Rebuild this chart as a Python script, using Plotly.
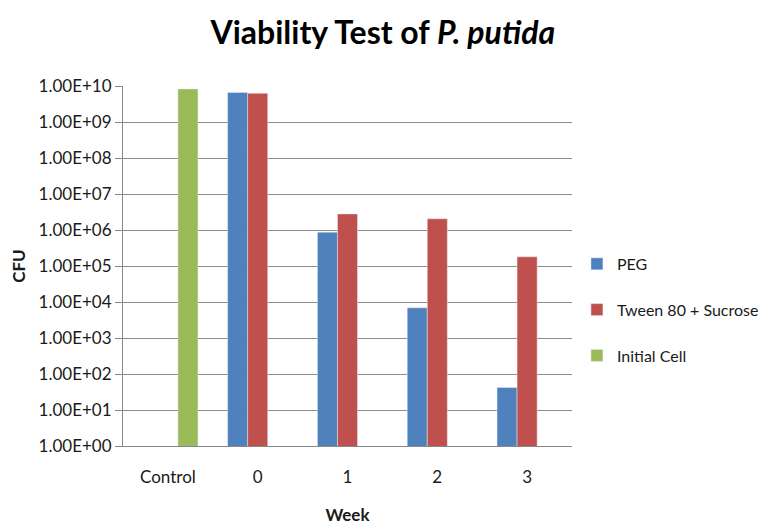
import plotly.graph_objects as go

categories = ["Control", "0", "1", "2", "3"]
peg = [None, 6.6e9, 8.7e5, 6.9e3, 42]
tween = [None, 6.3e9, 2.8e6, 2.05e6, 1.8e5]
initial = [8.3e9, None, None, None, None]
tick_vals = [1e0, 1e1, 1e2, 1e3, 1e4, 1e5, 1e6, 1e7, 1e8, 1e9, 1e10]
tick_text = ["1.00E+00", "1.00E+01", "1.00E+02", "1.00E+03", "1.00E+04", "1.00E+05",
             "1.00E+06", "1.00E+07", "1.00E+08", "1.00E+09", "1.00E+10"]

FONT = "Lato, Carlito, Calibri, sans-serif"

fig = go.Figure()
fig.add_bar(x=categories, y=peg, name="PEG", marker_color="#4F81BD", legendgroup="a")
fig.add_bar(x=categories, y=tween, name="Tween 80 + Sucrose", marker_color="#C0504D", legendgroup="b")
fig.add_bar(x=categories, y=initial, name="Initial Cell", marker_color="#9BBB59", legendgroup="c")

fig.update_layout(
    width=768, height=526,
    paper_bgcolor="white", plot_bgcolor="white",
    margin=dict(l=115, r=204, t=78, b=88, autoexpand=False),
    barmode="group", bargap=0.33, bargroupgap=0,
    font=dict(family=FONT, size=17, color="#1a1a1a"),
    title=dict(text="<b>Viability Test of <i>P. putida</i></b>", x=0.488, xanchor="center",
               y=0.9525, yanchor="middle", font=dict(size=32, color="black", family=FONT)),
    legend=dict(x=1.011, y=0.378, xanchor="left", yanchor="middle", traceorder="grouped",
                tracegroupgap=22, font=dict(size=16, color="#1a1a1a"), itemwidth=30),
    xaxis=dict(type="category", showline=True, linecolor="#888888", linewidth=1,
               ticks="", automargin=False, ticklabelstandoff=16,
               title=dict(text="<b>Week</b>", font=dict(size=17), standoff=22),
               tickfont=dict(size=17)),
    yaxis=dict(type="log", range=[0, 10], tickvals=tick_vals, ticktext=tick_text,
               showline=True, linecolor="#888888", linewidth=1, automargin=False,
               ticks="outside", ticklen=7, tickcolor="#888888",
               showgrid=True, gridcolor="#8c8c8c", gridwidth=1,
               title=dict(text="<b>CFU</b>", font=dict(size=17), standoff=8),
               tickfont=dict(size=17)),
)

fig.write_html("out.html")
